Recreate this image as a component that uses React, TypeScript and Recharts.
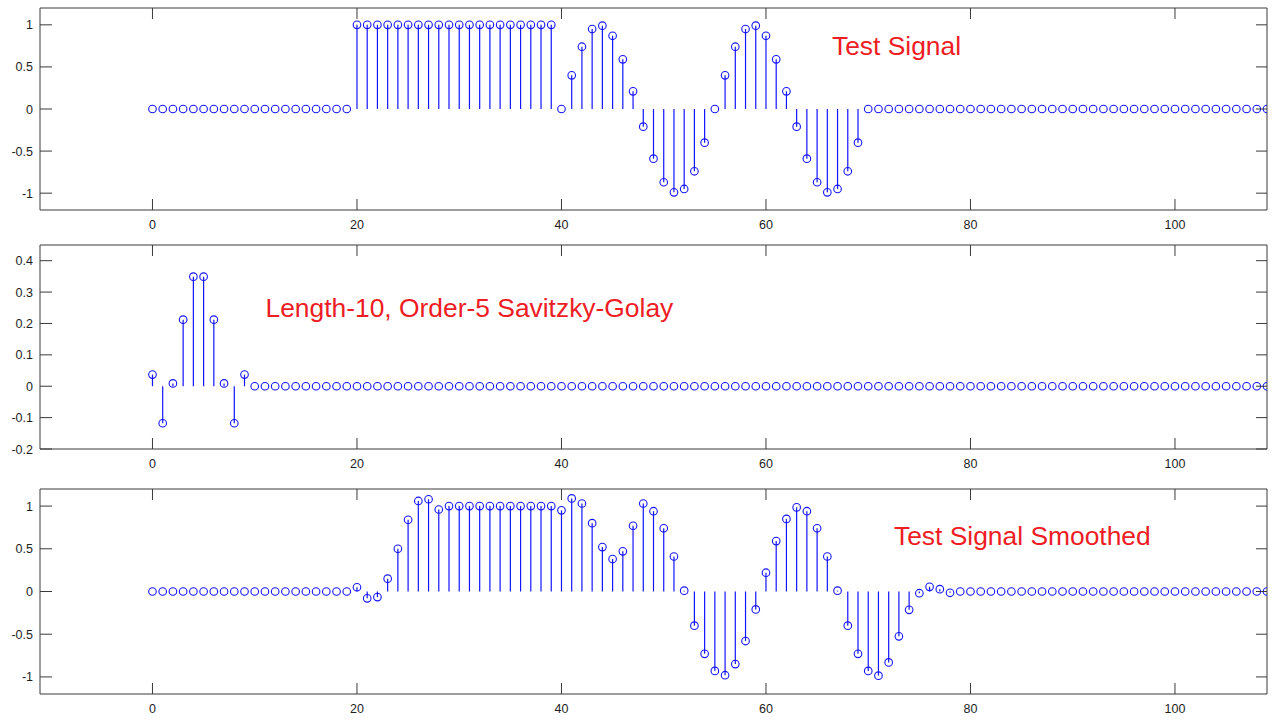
import React from 'react';
import { ComposedChart, Scatter, XAxis, YAxis, ErrorBar, ReferenceArea } from 'recharts';

// ---- data ----
const sampleIndex: number[] = Array.from({ length: 110 }, (_, i) => i);

const testSignal: number[] = [
  0, 0, 0, 0, 0, 0, 0, 0, 0, 0, 0, 0, 0, 0, 0, 0, 0, 0, 0, 0,
  1, 1, 1, 1, 1, 1, 1, 1, 1, 1, 1, 1, 1, 1, 1, 1, 1, 1, 1, 1,
  0, 0.40, 0.74, 0.95, 0.99, 0.87, 0.59, 0.21, -0.21, -0.59,
  -0.87, -0.99, -0.95, -0.74, -0.40, 0, 0.40, 0.74, 0.95, 0.99,
  0.87, 0.59, 0.21, -0.21, -0.59, -0.87, -0.99, -0.95, -0.74, -0.40,
  0, 0, 0, 0, 0, 0, 0, 0, 0, 0, 0, 0, 0, 0, 0, 0, 0, 0, 0, 0,
  0, 0, 0, 0, 0, 0, 0, 0, 0, 0, 0, 0, 0, 0, 0, 0, 0, 0, 0, 0,
];

const filterTaps: number[] = [
  0.037, -0.118, 0.009, 0.212, 0.349, 0.349, 0.212, 0.009, -0.118, 0.037,
  0, 0, 0, 0, 0, 0, 0, 0, 0, 0, 0, 0, 0, 0, 0, 0, 0, 0, 0, 0,
  0, 0, 0, 0, 0, 0, 0, 0, 0, 0, 0, 0, 0, 0, 0, 0, 0, 0, 0, 0,
  0, 0, 0, 0, 0, 0, 0, 0, 0, 0, 0, 0, 0, 0, 0, 0, 0, 0, 0, 0,
  0, 0, 0, 0, 0, 0, 0, 0, 0, 0, 0, 0, 0, 0, 0, 0, 0, 0, 0, 0,
  0, 0, 0, 0, 0, 0, 0, 0, 0, 0, 0, 0, 0, 0, 0, 0, 0, 0, 0, 0,
];

const smoothedSignal: number[] = [
  0, 0, 0, 0, 0, 0, 0, 0, 0, 0, 0, 0, 0, 0, 0, 0, 0, 0, 0, 0,
  0.05, -0.08, -0.065, 0.15, 0.50, 0.84, 1.06, 1.08, 0.96,
  1, 1, 1, 1, 1, 1, 1, 1, 1, 1, 1,
  0.95, 1.09, 1.03, 0.80, 0.52, 0.38, 0.47, 0.77, 1.03, 0.94,
  0.74, 0.41, 0.01, -0.40, -0.73, -0.93, -0.98, -0.85, -0.58, -0.21,
  0.22, 0.59, 0.85, 0.985, 0.94, 0.74, 0.41, 0.01, -0.40, -0.73,
  -0.93, -0.985, -0.83, -0.525, -0.215, -0.02, 0.055, 0.027, -0.015,
  0, 0, 0, 0, 0, 0, 0, 0, 0, 0, 0, 0, 0, 0, 0, 0, 0, 0, 0, 0,
  0, 0, 0, 0, 0, 0, 0, 0, 0, 0, 0,
];

const xTicks = [0, 20, 40, 60, 80, 100];
const xDomain: [number, number] = [-11, 109];
const signalTicks = [-1, -0.5, 0, 0.5, 1];
const signalDomain: [number, number] = [-1.2, 1.2];
const filterTicks = [-0.2, -0.1, 0, 0.1, 0.2, 0.3, 0.4];
const filterDomain: [number, number] = [-0.2, 0.45];

const titles = ['Test Signal', 'Length-10, Order-5 Savitzky-Golay', 'Test Signal Smoothed'];

// ---- style ----
const BLUE = '#1414ff';
const AXIS = '#3a3a3a';
const RED = '#ee1c24';
const FONT = '"Liberation Sans", Arial, Helvetica, sans-serif';
const CHART_W = 1275;
const CHART_H = 240;
const Y_AXIS_W = 40;
const RIGHT_M = 8;
const PLOT_W = CHART_W - Y_AXIS_W - RIGHT_M;

const buildRows = (values: number[]) =>
  sampleIndex.map((n, i) => {
    const v = values[i];
    return { n, v, err: v > 0 ? [v, 0] : [0, -v] };
  });

const makeXTick = (plotH: number) => (props: any) => {
  const { x, y, payload } = props;
  return (
    <g>
      <line x1={x} x2={x} y1={y} y2={y - 11} stroke={AXIS} strokeWidth={1} />
      <line x1={x} x2={x} y1={y - plotH} y2={y - plotH + 11} stroke={AXIS} strokeWidth={1} />
      <text x={x} y={y + 18.5} textAnchor="middle" fontSize={12.5} fill="#1e1e1e" fontFamily={FONT}>
        {String(payload.value)}
      </text>
    </g>
  );
};

const makeYTick = () => (props: any) => {
  const { x, y, payload } = props;
  return (
    <g>
      <line x1={x} x2={x + 12} y1={y} y2={y} stroke={AXIS} strokeWidth={1} />
      <line x1={x + PLOT_W - 11} x2={x + PLOT_W} y1={y} y2={y} stroke={AXIS} strokeWidth={1} />
      <text x={x - 7} y={y + 4.5} textAnchor="end" fontSize={12.5} fill="#1e1e1e" fontFamily={FONT}>
        {String(payload.value)}
      </text>
    </g>
  );
};

const renderCircle = (p: any) => (
  <circle cx={p.cx} cy={p.cy} r={3.8} fill="none" stroke={BLUE} strokeWidth={1.1} />
);

type PanelProps = {
  values: number[];
  yDomain: [number, number];
  yTicks: number[];
  top: number;
  bottom: number;
};

const StemPanel = ({ values, yDomain, yTicks, top, bottom }: PanelProps) => {
  const xAxisH = 20;
  const plotH = CHART_H - top - bottom - xAxisH;
  const rows = buildRows(values);
  return (
    <ComposedChart
      width={CHART_W}
      height={CHART_H}
      data={rows}
      margin={{ top, right: RIGHT_M, bottom, left: 0 }}
    >
      <XAxis
        dataKey="n"
        type="number"
        domain={xDomain}
        ticks={xTicks}
        interval={0}
        allowDataOverflow
        height={xAxisH}
        axisLine={false}
        tickLine={false}
        tickSize={0}
        tickMargin={0}
        tick={makeXTick(plotH)}
      />
      <YAxis
        type="number"
        domain={yDomain}
        ticks={yTicks}
        interval={0}
        allowDataOverflow
        width={Y_AXIS_W}
        axisLine={false}
        tickLine={false}
        tickSize={0}
        tickMargin={0}
        tick={makeYTick()}
      />
      <ReferenceArea
        x1={xDomain[0]}
        x2={xDomain[1]}
        y1={yDomain[0]}
        y2={yDomain[1]}
        fill="none"
        fillOpacity={0}
        stroke={AXIS}
        strokeWidth={1}
      />
      <Scatter dataKey="v" isAnimationActive={false} shape={renderCircle}>
        <ErrorBar
          dataKey="err"
          direction="y"
          width={0}
          stroke={BLUE}
          strokeWidth={1.2}
          isAnimationActive={false}
        />
      </Scatter>
    </ComposedChart>
  );
};

export default function App() {
  return (
    <div style={{ position: 'absolute', left: 0, top: 0, width: 1275, height: 720, background: '#fff' }}>
      <StemPanel values={testSignal} yDomain={signalDomain} yTicks={signalTicks} top={8} bottom={10} />
      <StemPanel values={filterTaps} yDomain={filterDomain} yTicks={filterTicks} top={5} bottom={11} />
      <StemPanel values={smoothedSignal} yDomain={signalDomain} yTicks={signalTicks} top={9} bottom={6} />
      <svg
        width={1275}
        height={720}
        style={{ position: 'absolute', left: 0, top: 0, pointerEvents: 'none' }}
      >
        <text x={832} y={55} fontSize={26.4} fill={RED} fontFamily={FONT}>{titles[0]}</text>
        <text x={265.5} y={317} fontSize={26.4} fill={RED} fontFamily={FONT}>{titles[1]}</text>
        <text x={894} y={545} fontSize={26.4} fill={RED} fontFamily={FONT}>{titles[2]}</text>
      </svg>
    </div>
  );
}
